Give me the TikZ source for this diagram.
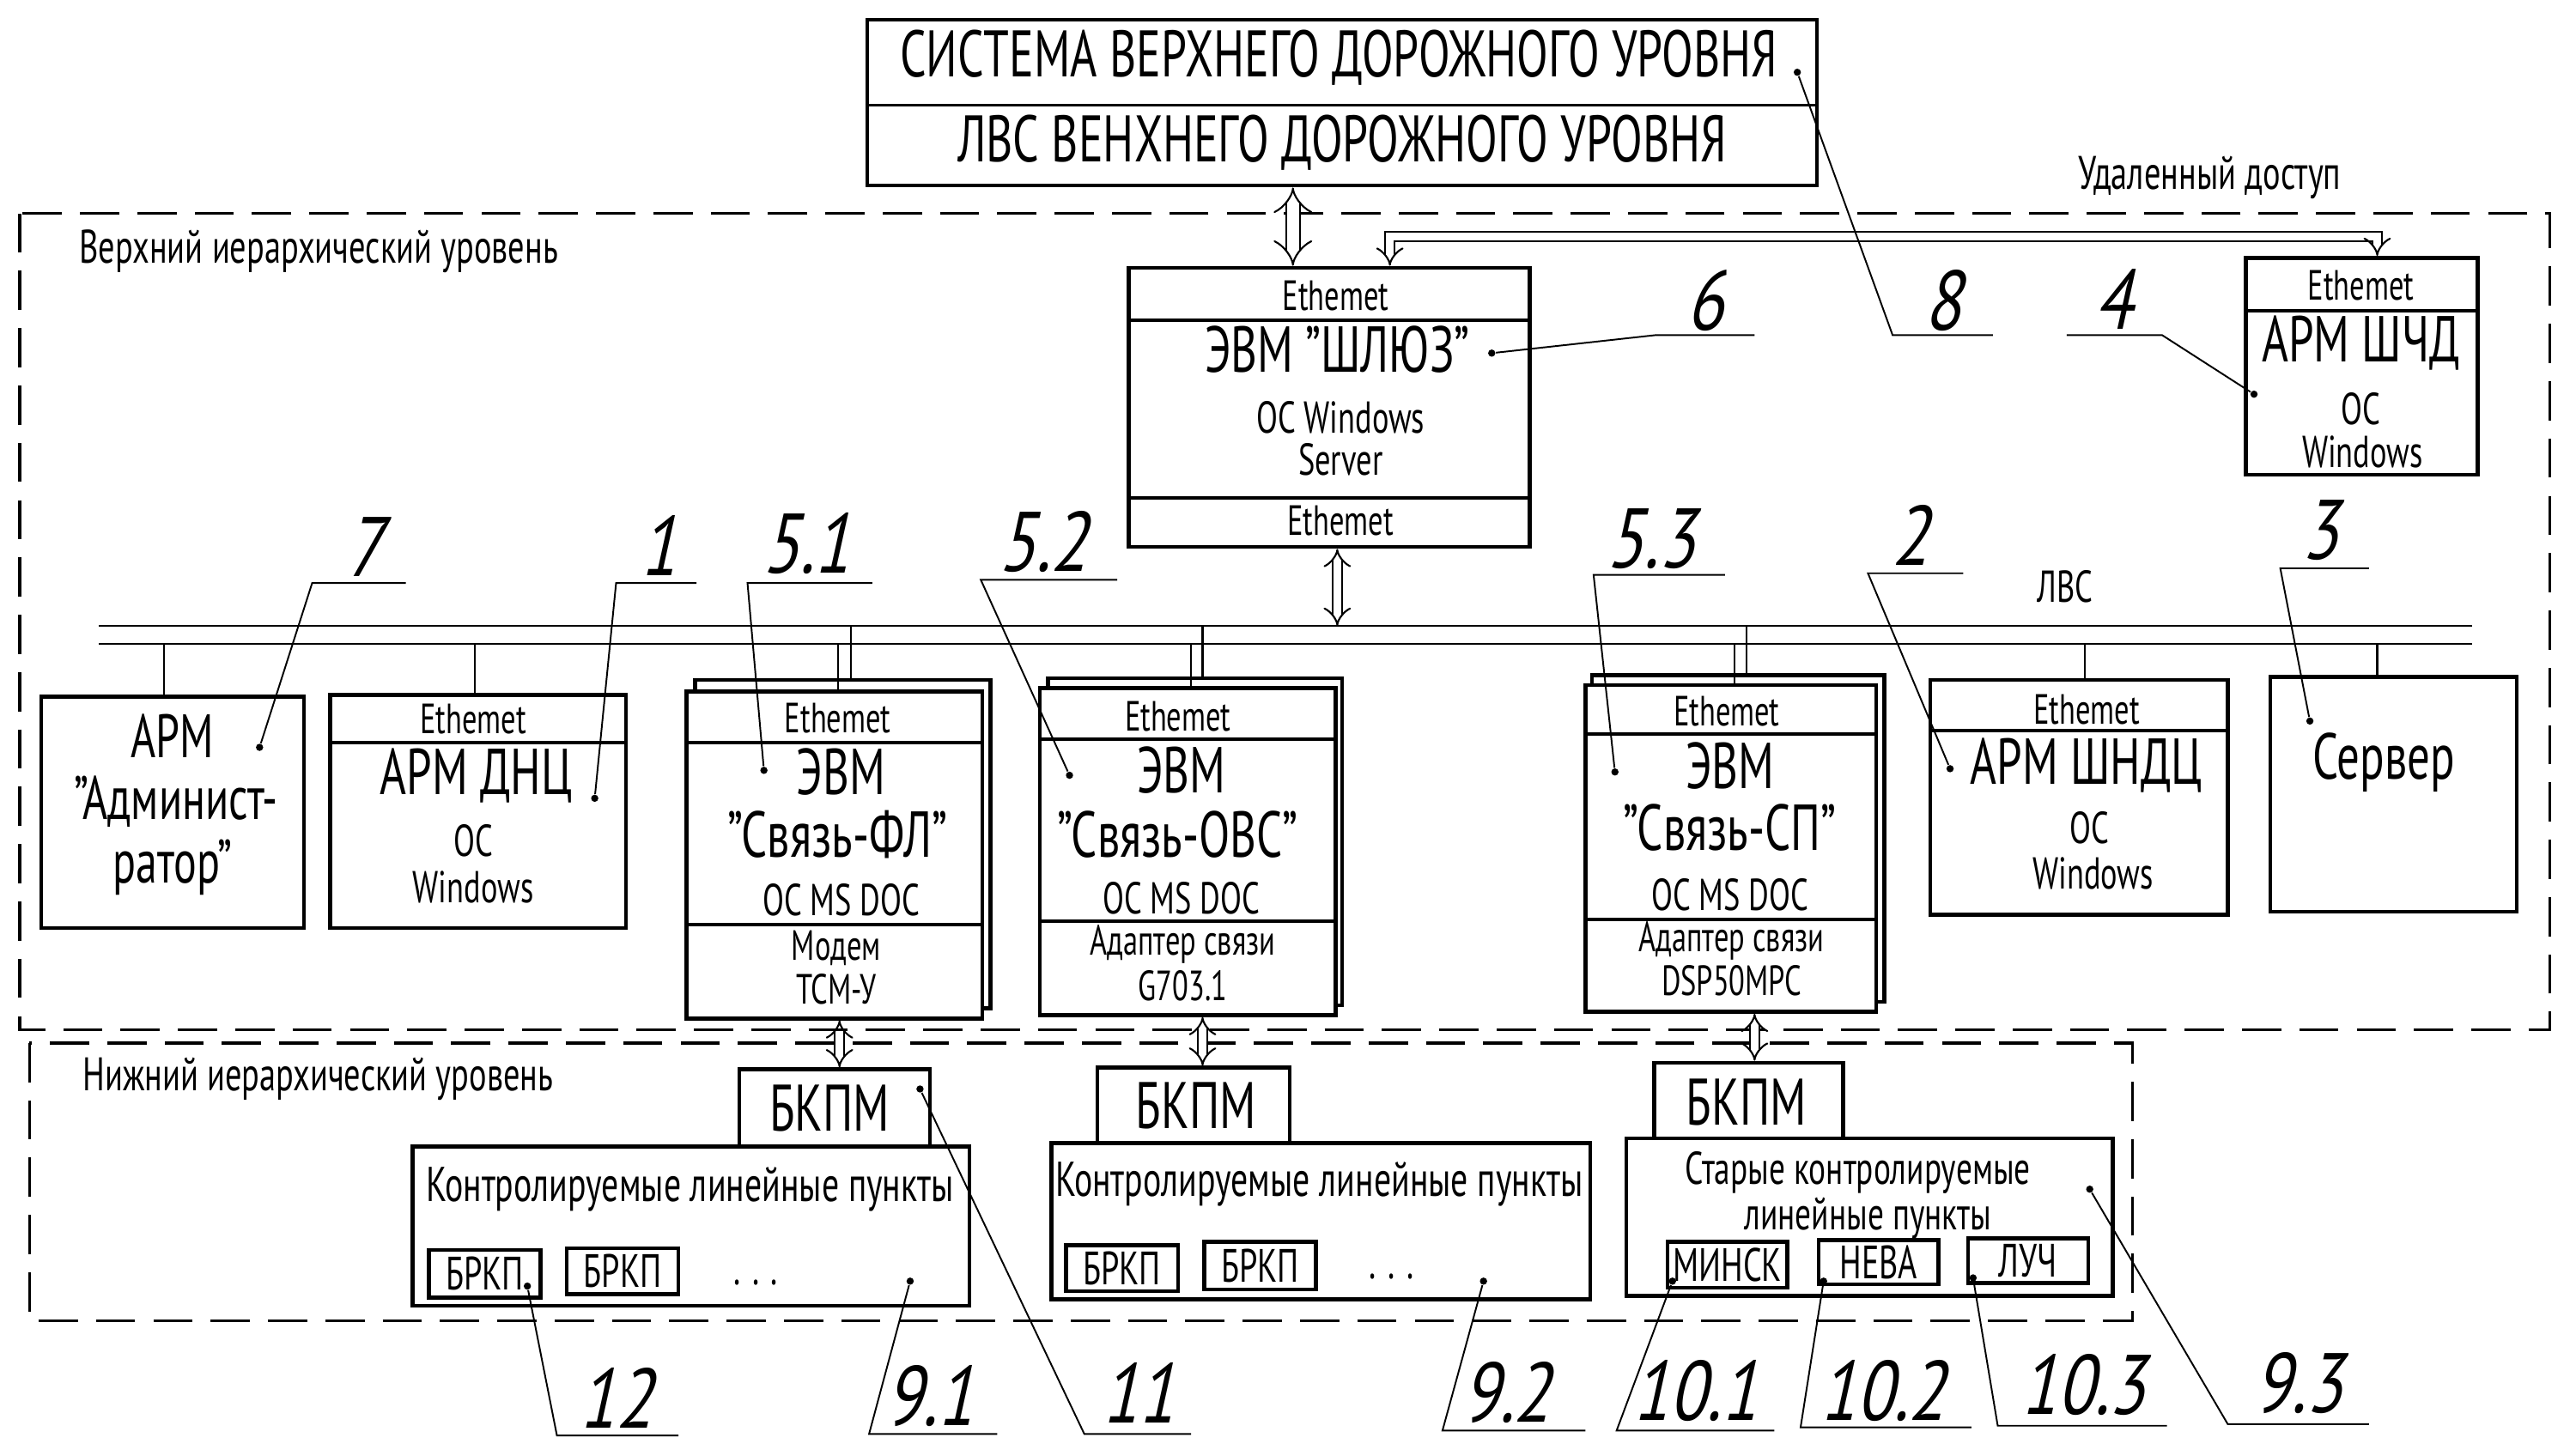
\documentclass[tikz,border=0pt]{standalone}
\usepackage{fontspec}
\setmainfont{PT Sans}[FakeStretch=0.7]
\newfontfamily\gostn{PT Sans}[FakeStretch=0.8,FakeSlant=0.22]
\usetikzlibrary{arrows.meta,fit}
\newcommand\fz[1]{\fontsize{#1}{#1}\selectfont}
\tikzset{
  box/.style={draw, line width=1.3pt, fill=white, inner sep=0pt},
  divl/.style={line width=1.1pt},
  bus/.style={line width=0.6pt},
  lead/.style={line width=0.55pt},
  dotm/.style={circle, fill, inner sep=0pt, minimum size=2.4pt},
  region/.style={line width=0.9pt, dash pattern=on 13pt off 6pt},
  harrow/.style={double, double distance=2.6pt, line width=0.6pt, {Implies}-{Implies}},
  tTop/.style={font=\fz{21.8pt}},
  tEth/.style={font=\fz{14pt}},
  tBig/.style={font=\fz{21.5pt}},
  tAdm/.style={font=\fz{20.3pt}},
  tMid/.style={font=\fz{14.8pt}},
  tSm/.style={font=\fz{14pt}},
  tLab/.style={font=\fz{15.6pt}},
  tKP/.style={font=\fz{16.2pt}},
  tKP3/.style={font=\fz{15.2pt}},
  tSub/.style={font=\fz{15.5pt}},
  num/.style={font=\gostn\fz{28pt}},
}
\newcommand\mkbox[5]{\node[box, fit={(#2,#3)(#4,#5)}] (#1) {};}
\newcommand\divider[2]{\draw[divl] (#1.west |- 0,#2) -- (#1.east |- 0,#2);}
\newcommand\callout[9]{%
  \node[num, inner sep=0pt] (n#1) at (#3,#4) {#2};
  \coordinate (u#1a) at (#5,#7);
  \coordinate (u#1b) at (#6,#7);
  \node[dotm] (d#1) at (#8,#9) {};
  \draw[lead] (d#1) -- (u#1a) -- (u#1b);
}
\begin{document}
\begin{tikzpicture}[x=0.019133cm, y=-0.019133cm, every node/.style={inner sep=0pt}]
\useasboundingbox (0,0) rectangle (1568,886);
% regions
\draw[region] (12,130) rectangle (1552,627);
\draw[region] (18,635) rectangle (1298,804);
\node[tLab, anchor=west] (lvlUp) at (48,153) {Верхний иерархический уровень};
\node[tLab, anchor=west] (lvlDn) at (50,657) {Нижний иерархический уровень};
\node[tLab] (remote) at (1345,108) {Удаленный доступ};
\node[tMid] (lvs) at (1257,357) {ЛВС};

% top box
\mkbox{top}{528}{12}{1106}{113}
\divider{top}{64}
\node[tTop] (topA) at (815,35) {СИСТЕМА ВЕРХНЕГО ДОРОЖНОГО УРОВНЯ};
\node[tTop] (topB) at (817,87) {ЛВС ВЕНХНЕГО ДОРОЖНОГО УРОВНЯ};

% gateway
\mkbox{gw}{687}{163}{931}{333}
\divider{gw}{195}
\divider{gw}{303}
\node[tEth] (gwE1) at (813,180) {Ethemet};
\node[tBig] (gwT) at (814,213) {ЭВМ "ШЛЮЗ"};
\node[tMid] (gwO1) at (816,254) {ОС Windows};
\node[tMid] (gwO2) at (816,280) {Server};
\node[tEth] (gwE2) at (816,317) {Ethemet};

% ARM ShChD
\mkbox{chd}{1367}{157}{1508}{289}
\divider{chd}{189}
\node[tEth] (chdE) at (1437,174) {Ethemet};
\node[tBig] (chdT) at (1437,209) {АРМ ШЧД};
\node[tMid] (chdO1) at (1437,249) {ОС};
\node[tMid] (chdO2) at (1438,275) {Windows};

% bus
\coordinate (busAL) at (60,381); \coordinate (busAR) at (1505,381);
\coordinate (busBL) at (60,392); \coordinate (busBR) at (1505,392);
\draw[bus] (busAL) -- (busAR);
\draw[bus] (busBL) -- (busBR);

% admin
\mkbox{adm}{25}{424}{185}{565}
\node[tAdm] (admA) at (105,448) {АРМ};
\node[tAdm] (admB) at (107,488) {"Админист-};
\node[tAdm] (admC) at (105,528) {ратор"};

% DNC
\mkbox{dnc}{201}{423}{381}{565}
\divider{dnc}{452}
\node[tEth] (dncE) at (288,438) {Ethemet};
\node[tBig] (dncT) at (290,472) {АРМ ДНЦ};
\node[tMid] (dncO1) at (288,512) {ОС};
\node[tMid] (dncO2) at (288,540) {Windows};

% FL
\mkbox{flB}{423}{414}{603}{614}
\mkbox{fl}{418}{421}{598}{620}
\divider{fl}{452}
\divider{fl}{563}
\node[tEth] (flE) at (510,437) {Ethemet};
\node[tBig] (flT1) at (512,470) {ЭВМ};
\node[tBig] (flT2) at (510,508) {"Связь-ФЛ"};
\node[tMid] (flO) at (512,548) {ОС MS DOC};
\node[tSm] (flM1) at (509,577) {Модем};
\node[tSm] (flM2) at (509,602) {ТСМ-У};

% OVS
\mkbox{ovB}{638}{413}{817}{612}
\mkbox{ov}{633}{419}{813}{618}
\divider{ov}{450}
\divider{ov}{561}
\node[tEth] (ovE) at (717,436) {Ethemet};
\node[tBig] (ovT1) at (719,469) {ЭВМ};
\node[tBig] (ovT2) at (717,508) {"Связь-ОВС"};
\node[tMid] (ovO) at (719,547) {ОС MS DOC};
\node[tSm] (ovM1) at (720,575) {Адаптер связи};
\node[tSm] (ovM2) at (720,600) {G703.1};

% SP
\mkbox{spB}{969}{411}{1147}{610}
\mkbox{sp}{965}{417}{1142}{616}
\divider{sp}{447}
\divider{sp}{560}
\node[tEth] (spE) at (1051,433) {Ethemet};
\node[tBig] (spT1) at (1053,466) {ЭВМ};
\node[tBig] (spT2) at (1053,504) {"Связь-СП"};
\node[tMid] (spO) at (1053,545) {ОС MS DOC};
\node[tSm] (spM1) at (1054,573) {Адаптер связи};
\node[tSm] (spM2) at (1054,597) {DSP50MPC};

% SHNDC
\mkbox{shn}{1175}{414}{1356}{557}
\divider{shn}{445}
\node[tEth] (shnE) at (1270,432) {Ethemet};
\node[tBig] (shnT) at (1270,466) {АРМ ШНДЦ};
\node[tMid] (shnO1) at (1272,504) {ОС};
\node[tMid] (shnO2) at (1274,532) {Windows};

% server
\mkbox{srv}{1382}{412}{1532}{555}
\node[tBig] (srvT) at (1451,464) {Сервер};

% bus drops
\draw[bus] (busBL -| 100,0) -- (adm.north -| 100,0);
\draw[bus] (busBL -| 289,0) -- (dnc.north -| 289,0);
\draw[bus] (busAL -| 518,0) -- (flB.north -| 518,0);
\draw[bus] (busBL -| 510,0) -- (fl.north -| 510,0);
\draw[bus] (busAL -| 732,0) -- (ovB.north -| 732,0);
\draw[bus] (busBL -| 725,0) -- (ov.north -| 725,0);
\draw[bus] (busAL -| 1063,0) -- (spB.north -| 1063,0);
\draw[bus] (busBL -| 1056,0) -- (sp.north -| 1056,0);
\draw[bus] (busBL -| 1269,0) -- (shn.north -| 1269,0);
\draw[bus] (busBL -| 1447,0) -- (srv.north -| 1447,0);

% hollow arrows upper
\draw[harrow, double distance=4pt] (top.south -| 787,0) -- (gw.north -| 787,0);
\draw[harrow] (gw.south -| 814,0) -- (busAL -| 814,0);
\coordinate (ra1) at (846,144);
\coordinate (ra2) at (1447,144);
\draw[harrow] (gw.north -| ra1) -- (ra1) -- (ra2) -- (chd.north -| ra2);

% lower level
\mkbox{kp1}{251}{698}{590}{795}
\mkbox{bk1}{450}{651}{566}{698}
\node[tTop] (bk1T) at (505,675) {БКПМ};
\node[tKP] (kp1T) at (420,724) {Контролируемые линейные пункты};
\mkbox{br1a}{261}{761}{329}{790}
\mkbox{br1b}{345}{760}{413}{788}
\node[tSub] at (br1a) (br1aT) {БРКП};
\node[tSub] at (br1b) (br1bT) {БРКП};
\node[tSub] (kp1d) at (460,781) {. . .};

\mkbox{kp2}{640}{696}{968}{791}
\mkbox{bk2}{668}{650}{785}{696}
\node[tTop] (bk2T) at (728,673) {БКПМ};
\node[tKP] (kp2T) at (803,721) {Контролируемые линейные пункты};
\mkbox{br2a}{649}{758}{717}{786}
\mkbox{br2b}{733}{756}{801}{785}
\node[tSub] at (br2a) (br2aT) {БРКП};
\node[tSub] at (br2b) (br2bT) {БРКП};
\node[tSub] (kp2d) at (847,777) {. . .};

\mkbox{kp3}{990}{693}{1286}{789}
\mkbox{bk3}{1007}{647}{1122}{693}
\node[tTop] (bk3T) at (1063,671) {БКПМ};
\node[tKP3] (kp3T1) at (1131,714) {Старые контролируемые};
\node[tKP3] (kp3T2) at (1137,742) {линейные пункты};
\mkbox{mn}{1015}{756}{1088}{784}
\mkbox{nv}{1107}{755}{1180}{782}
\mkbox{lc}{1198}{754}{1271}{781}
\node[tSub] at (mn) (mnT) {МИНСК};
\node[tSub] at (nv) (nvT) {НЕВА};
\node[tSub] at (lc) (lcT) {ЛУЧ};

\draw[harrow] (fl.south -| 511,0) -- (bk1.north -| 511,0);
\draw[harrow] (ov.south -| 732,0) -- (bk2.north -| 732,0);
\draw[harrow] (sp.south -| 1068,0) -- (bk3.north -| 1068,0);

% callouts: name, text, tx, ty, uxA(leader), uxB, uy, dotx, doty
\callout{c6}{6}{1038}{183}{1008}{1068}{204}{908}{215}
\callout{c8}{8}{1183}{183}{1152}{1213}{204}{1094}{44}
\callout{c4}{4}{1287}{182}{1316}{1258}{204}{1372}{240}
\callout{c7}{7}{222}{333}{190}{247}{355}{158}{455}
\callout{c1}{1}{401}{332}{375}{424}{355}{362}{486}
\callout{c51}{5.1}{491}{331}{455}{531}{355}{465}{469}
\callout{c52}{5.2}{635}{330}{597}{680}{353}{651}{472}
\callout{c53}{5.3}{1005}{328}{970}{1050}{350}{983}{470}
\callout{c2}{2}{1163}{326}{1137}{1195}{349}{1187}{468}
\callout{c3}{3}{1412}{323}{1388}{1442}{346}{1406}{439}
\callout{c12}{12}{375}{851}{339}{413}{874}{321}{783}
\callout{c91}{9.1}{566}{850}{529}{607}{873}{554}{780}
\callout{c11}{11}{693}{848}{660}{725}{873}{560}{663}
\callout{c92}{9.2}{917}{848}{878}{965}{871}{903}{780}
\callout{c101}{10.1}{1032}{847}{984}{1080}{871}{1018}{780}
\callout{c102}{10.2}{1146}{847}{1096}{1200}{869}{1110}{780}
\callout{c103}{10.3}{1268}{843}{1216}{1319}{868}{1201}{778}
\callout{c93}{9.3}{1399}{842}{1356}{1442}{867}{1272}{724}
\end{tikzpicture}
\end{document}
